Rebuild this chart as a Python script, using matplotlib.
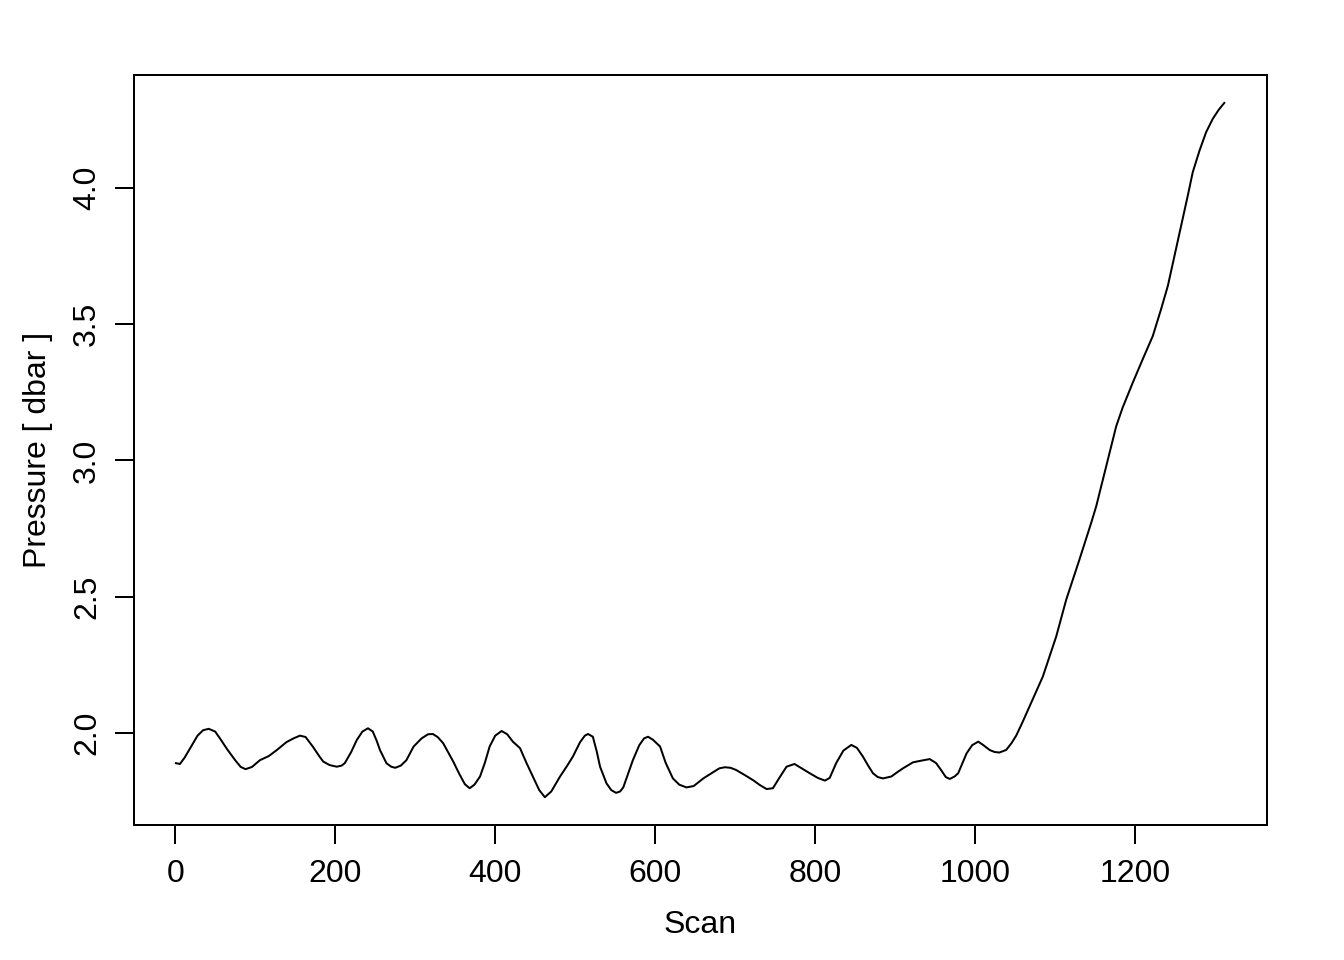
import matplotlib
matplotlib.use("Agg")
import matplotlib.pyplot as plt

plt.rcParams['font.family'] = ['Liberation Sans', 'DejaVu Sans']

scan = [1, 6, 12, 20, 28, 35, 42, 50, 56, 65, 75, 82, 88, 96, 106, 117, 127, 139,
        148, 156, 163, 172, 180, 185, 193, 202, 208, 212, 220, 227, 234, 241, 247,
        252, 256, 264, 270, 275, 282, 289, 298, 308, 316, 322, 328, 335, 341, 347.5,
        355, 362, 368, 374, 381, 387, 393, 400, 408, 415, 422, 431, 439, 447, 455,
        462, 470, 481, 490, 497, 506, 512, 516, 522, 527, 531, 539, 545, 551, 556,
        560, 566, 572, 580, 586, 591, 597, 606, 613, 622, 630, 639, 648, 660, 672,
        680, 687, 694, 701, 712, 722, 730, 739, 747, 755, 764, 774, 783, 793, 803,
        812, 818, 826, 835, 845, 852, 859.5, 866, 872, 878, 884.5, 895, 902, 909.5,
        922, 932, 943, 951, 958, 963, 968, 974, 978.5, 989, 996, 1003.6, 1010, 1018,
        1024, 1030, 1038.5, 1045, 1051, 1059, 1068.6, 1084.3, 1101, 1113.5, 1130,
        1144.7, 1151, 1163.5, 1176, 1184, 1196.7, 1209, 1221.7, 1232, 1240.5,
        1248.8, 1257, 1265.4, 1271.6, 1280, 1288.3, 1296.6, 1304, 1311]
pressure = [1.889, 1.886, 1.91, 1.95, 1.99, 2.01, 2.015, 2.005, 1.98, 1.94, 1.90,
            1.875, 1.867, 1.875, 1.90, 1.915, 1.937, 1.966, 1.98, 1.99, 1.985, 1.95,
            1.915, 1.895, 1.882, 1.876, 1.88, 1.889, 1.93, 1.974, 2.005, 2.017, 2.005,
            1.97, 1.937, 1.889, 1.876, 1.872, 1.88, 1.90, 1.95, 1.98, 1.995, 1.996,
            1.985, 1.962, 1.93, 1.895, 1.85, 1.812, 1.797, 1.81, 1.84, 1.89, 1.95,
            1.99, 2.007, 1.995, 1.968, 1.944, 1.89, 1.84, 1.79, 1.764, 1.785, 1.84,
            1.88, 1.913, 1.966, 1.99, 1.996, 1.986, 1.93, 1.876, 1.815, 1.79, 1.78,
            1.785, 1.80, 1.85, 1.90, 1.955, 1.98, 1.986, 1.975, 1.95, 1.89, 1.833,
            1.81, 1.80, 1.805, 1.833, 1.855, 1.87, 1.874, 1.872, 1.864, 1.845, 1.827,
            1.81, 1.794, 1.797, 1.835, 1.876, 1.886, 1.87, 1.852, 1.835, 1.825,
            1.835, 1.889, 1.935, 1.956, 1.945, 1.913, 1.88, 1.852, 1.838, 1.833,
            1.84, 1.855, 1.87, 1.892, 1.898, 1.904, 1.889, 1.86, 1.838, 1.831, 1.84,
            1.852, 1.925, 1.955, 1.968, 1.955, 1.937, 1.93, 1.928, 1.9375, 1.962,
            1.99, 2.04, 2.103, 2.207, 2.354, 2.489, 2.636, 2.771, 2.832, 2.979,
            3.126, 3.194, 3.286, 3.371, 3.457, 3.555, 3.641, 3.751, 3.861, 3.972,
            4.058, 4.137, 4.205, 4.254, 4.287, 4.3125]

xticks = [0, 200, 400, 600, 800, 1000, 1200]
yticks = [2.0, 2.5, 3.0, 3.5, 4.0]

fig = plt.figure(figsize=(7, 5), dpi=192)
ax = fig.add_axes([134/1344, 1 - 825/960, (1267-134)/1344, (825-75)/960])
ax.plot(scan, pressure, color='black', linewidth=0.75)
ax.set_xlim(-51.4, 1364.4)
ax.set_ylim(1.662, 4.415)

ax.set_xticks(xticks)
ax.set_xticklabels([str(t) for t in xticks])
ax.set_yticks(yticks)
ax.set_yticklabels([f"{t:.1f}" for t in yticks], rotation=90, va='center')
ax.tick_params(direction='out', length=7.2, width=0.75, labelsize=12, pad=5.5)
ax.tick_params(axis='y', pad=4.8)
for s in ax.spines.values():
    s.set_linewidth(0.75)

ax.set_xlabel("Scan", fontsize=12, labelpad=8)
ax.set_ylabel("Pressure [ dbar ]", fontsize=12, labelpad=7)

fig.savefig("out.png", dpi=192)
